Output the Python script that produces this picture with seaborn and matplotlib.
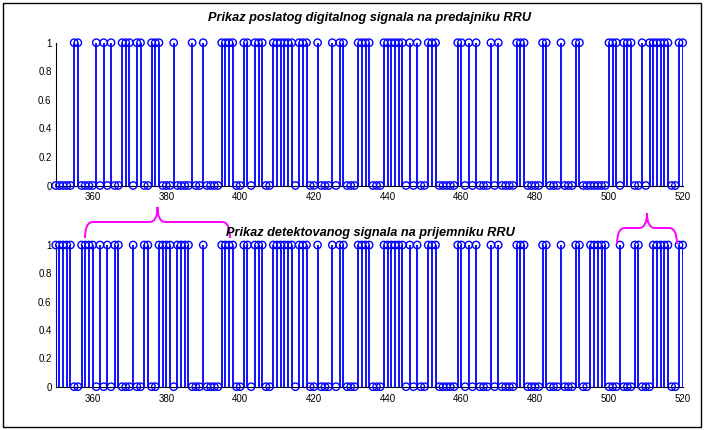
import numpy as np
import pandas as pd
import matplotlib
matplotlib.use("Agg")
import matplotlib.pyplot as plt
from matplotlib.path import Path
from matplotlib.patches import PathPatch, Rectangle
import seaborn as sns

# ---- data -------------------------------------------------------------
sample_first = 350
sample_last = 520
# sample indices whose value is 1 (all other samples are 0)
sent_ones = [355, 356, 361, 363, 365, 368, 369, 370, 372, 373, 376, 377, 378,
             382, 387, 390, 395, 396, 397, 398, 401, 402, 404, 405, 406,
             409, 410, 411, 412, 413, 414, 416, 417, 418, 421, 425, 427, 428,
             432, 433, 434, 435, 439, 440, 441, 442, 443, 444, 446, 448,
             451, 452, 453, 459, 460, 462, 464, 468, 470, 475, 476, 477, 482,
             483, 487, 491, 492, 500, 501, 502, 504, 505, 506, 509, 511, 512,
             513, 514, 515, 516, 519, 520]
recv_ones = [350, 351, 352, 353, 354, 357, 358, 359, 360, 362, 364, 366, 367,
             371, 374, 375, 378, 379, 380, 381, 383, 384, 385, 386, 390,
             395, 396, 397, 398, 401, 402, 404, 405, 406,
             409, 410, 411, 412, 413, 414, 416, 417, 418, 421, 425, 427, 428,
             432, 433, 434, 435, 439, 440, 441, 442, 443, 444, 446, 448,
             451, 452, 453, 459, 460, 462, 464, 468, 470, 475, 476, 477, 482,
             483, 487, 491, 492, 495, 496, 497, 498, 499, 503, 507, 508,
             512, 513, 514, 515, 516, 519, 520]
x_ticks = [360, 380, 400, 420, 440, 460, 480, 500, 520]
y_ticks = [0, 0.2, 0.4, 0.6, 0.8, 1]
y_tick_labels = ["0", "0.2", "0.4", "0.6", "0.8", "1"]
title_top = "Prikaz poslatog digitalnog signala na predajniku RRU"
title_bottom = "Prikaz detektovanog signala na prijemniku RRU"

samples = np.arange(sample_first, sample_last + 1)

# ---- style ------------------------------------------------------------
sns.set_style("white")
plt.rcParams["font.family"] = ["Liberation Sans", "DejaVu Sans"]
plt.rcParams["text.color"] = "black"

W, H = 704, 430
fig = plt.figure(figsize=(W / 100, H / 100), dpi=100)


def fx(px):
    return px / W


def fy(py):
    return 1 - py / H


def draw_stem(ax, ones):
    df = pd.DataFrame({"n": samples,
                       "v": [1 if s in ones else 0 for s in samples]})
    on = df[df["v"] == 1]
    ax.vlines(on["n"], 0, on["v"], color="#0000ff", lw=1.3, zorder=3)
    sns.scatterplot(data=df, x="n", y="v", ax=ax, marker="o", s=28,
                    color="#0000ff", linewidth=1.0, zorder=4, clip_on=False,
                    legend=False)
    pts = ax.collections[-1]
    pts.set_facecolor("none")
    pts.set_edgecolor("#0000ff")
    ax.set_xlim(sample_first, sample_last)
    ax.set_ylim(0, 1)
    ax.set_xticks(x_ticks)
    ax.set_xticklabels([str(t) for t in x_ticks])
    ax.set_yticks(y_ticks)
    ax.set_yticklabels(y_tick_labels)
    ax.set_xlabel("")
    ax.set_ylabel("")
    ax.tick_params(direction="in", length=3.5, width=0.7, labelsize=7,
                   colors="black")
    ax.tick_params(axis="x", pad=5)
    ax.tick_params(axis="y", pad=3)
    for side in ["top", "right"]:
        ax.spines[side].set_visible(False)
    for side in ["left", "bottom"]:
        ax.spines[side].set_color("black")
        ax.spines[side].set_linewidth(0.8)
    ax.set_facecolor("none")


ax1 = fig.add_axes([fx(55.7), fy(185.5), fx(682.7) - fx(55.7), fy(42.7) - fy(185.5)])
draw_stem(ax1, sent_ones)
ax2 = fig.add_axes([fx(55.7), fy(386.7), fx(682.7) - fx(55.7), fy(245) - fy(386.7)])
draw_stem(ax2, recv_ones)

fig.text(fx(370), fy(18), title_top, ha="center", va="center", color="black",
         fontsize=9.2, fontweight="bold", fontstyle="italic")
fig.text(fx(370), fy(233), title_bottom, ha="center", va="center", color="black",
         fontsize=9.2, fontweight="bold", fontstyle="italic")


def brace(x0, x1, ybase, ytop, ytip, r=8):
    xm = (x0 + x1) / 2
    pts = [(x0, ybase), (x0, ytop), (x0 + r, ytop), (xm - r, ytop),
           (xm, ytop), (xm, ytip), (xm, ytop), (xm + r, ytop),
           (x1 - r, ytop), (x1, ytop), (x1, ybase)]
    codes = [Path.MOVETO, Path.CURVE3, Path.CURVE3, Path.LINETO,
             Path.CURVE3, Path.CURVE3, Path.CURVE3, Path.CURVE3,
             Path.LINETO, Path.CURVE3, Path.CURVE3]
    verts = [(fx(a), fy(b)) for a, b in pts]
    fig.patches.append(PathPatch(Path(verts, codes), fill=False,
                                 edgecolor="#ff00ff", lw=1.4,
                                 transform=fig.transFigure))


brace(85, 230, 238, 222, 207)
brace(617, 677, 244, 228, 213)

fig.patches.append(Rectangle((fx(3), fy(427)), fx(698), 1 - fy(424) - 0.0,
                             fill=False, edgecolor="black", lw=1.0,
                             transform=fig.transFigure))

fig.savefig("out.png", dpi=100)
